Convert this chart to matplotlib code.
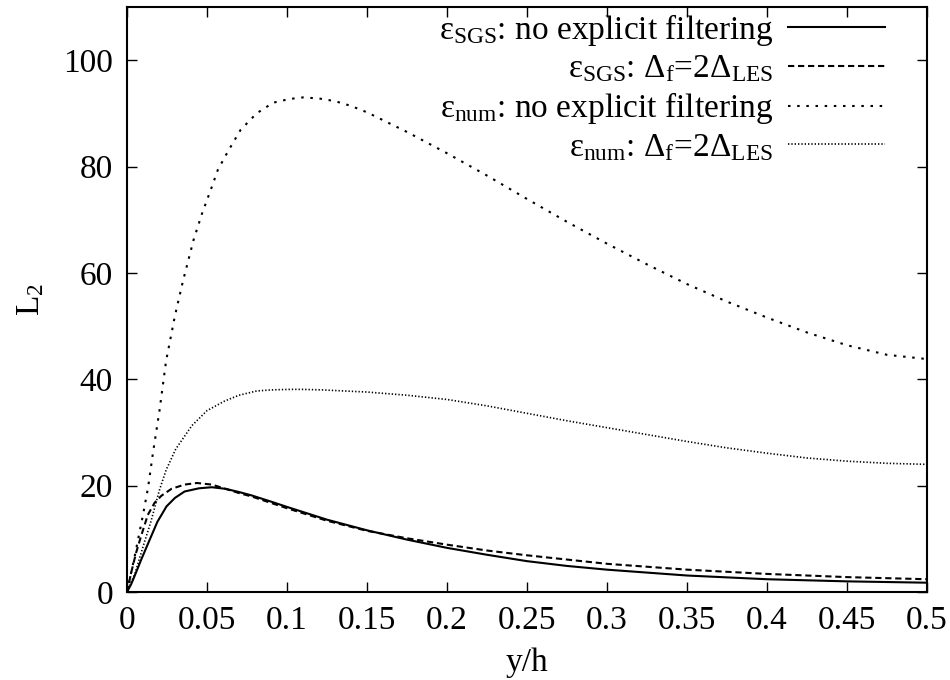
import matplotlib
matplotlib.use("Agg")
import matplotlib.pyplot as plt
from matplotlib.ticker import FormatStrFormatter

# data (y/h, L2)
x_sgs_nf = [0, 0.0025, 0.0046, 0.0089, 0.014, 0.019, 0.0247, 0.030, 0.036, 0.045,
            0.053, 0.0616, 0.07, 0.078, 0.09, 0.1, 0.125, 0.15, 0.175, 0.2,
            0.225, 0.25, 0.275, 0.3, 0.35, 0.4, 0.45, 0.5]
y_sgs_nf = [0, 1.4, 2.9, 6.1, 9.7, 13.2, 16.1, 17.7, 18.9, 19.5,
            19.7, 19.4, 18.8, 18.15, 17.0, 16.0, 13.6, 11.6, 9.85, 8.3,
            7.0, 5.8, 4.9, 4.2, 3.1, 2.4, 2.0, 1.75]

x_sgs_f = [0, 0.0025, 0.0057, 0.0089, 0.013, 0.0173, 0.0215, 0.0278, 0.036, 0.0437,
           0.053, 0.0616, 0.07, 0.078, 0.09, 0.1, 0.125, 0.15, 0.175, 0.2,
           0.225, 0.25, 0.275, 0.3, 0.35, 0.4, 0.45, 0.5]
y_sgs_f = [0, 3.5, 7.4, 10.6, 14.5, 16.8, 18.1, 19.4, 20.2, 20.5,
           20.2, 19.4, 18.6, 17.95, 16.75, 15.75, 13.4, 11.5, 10.1, 8.9,
           7.8, 6.9, 6.1, 5.3, 4.2, 3.4, 2.8, 2.4]

x_num_nf = [0, 0.005, 0.01, 0.0132, 0.0162, 0.0203, 0.0244, 0.03, 0.035, 0.0416,
            0.0467, 0.0528, 0.0568, 0.063, 0.071, 0.081, 0.0913, 0.1015, 0.11, 0.12,
            0.13, 0.14, 0.15, 0.175, 0.2, 0.225, 0.25, 0.275, 0.3, 0.325,
            0.35, 0.375, 0.4, 0.425, 0.45, 0.475, 0.5]
y_num_nf = [0, 7, 14.5, 19.7, 26.1, 34.1, 43.4, 52, 58.5, 66.2,
            71, 76, 79.4, 82.8, 86.9, 90, 92, 92.7, 93, 92.8,
            92.3, 91.4, 90.2, 86.5, 82.5, 78.3, 73.9, 69.6, 65.5, 61.6,
            57.9, 54.6, 51.6, 48.8, 46.4, 44.6, 43.8]

x_num_f = [0, 0.005, 0.01, 0.015, 0.0203, 0.0244, 0.0305, 0.0406, 0.05, 0.061,
           0.07, 0.081, 0.09, 0.1015, 0.11, 0.122, 0.15, 0.175, 0.2, 0.225,
           0.25, 0.275, 0.3, 0.325, 0.35, 0.375, 0.4, 0.425, 0.45, 0.475, 0.5]
y_num_f = [0, 3.5, 8.5, 13.3, 19.2, 22.9, 26.9, 31.3, 34.1, 35.9,
           37.0, 37.8, 38.0, 38.1, 38.1, 38.0, 37.6, 37.0, 36.2, 35.0,
           33.6, 32.2, 30.9, 29.6, 28.3, 27.1, 26.1, 25.2, 24.6, 24.2, 24.0]

labels = [
    r"$\mathrm{ε_{SGS}}$: no explicit filtering",
    r"$\mathrm{ε_{SGS}}$: $\mathrm{Δ_f}$=2$\mathrm{Δ_{LES}}$",
    r"$\mathrm{ε_{num}}$: no explicit filtering",
    r"$\mathrm{ε_{num}}$: $\mathrm{Δ_f}$=2$\mathrm{Δ_{LES}}$",
]
xticks = [0, 0.05, 0.1, 0.15, 0.2, 0.25, 0.3, 0.35, 0.4, 0.45, 0.5]
yticks = [0, 20, 40, 60, 80, 100]

plt.rcParams["font.family"] = ["Liberation Serif", "DejaVu Serif"]
plt.rcParams["mathtext.fontset"] = "custom"
plt.rcParams["mathtext.rm"] = "Liberation Serif"
plt.rcParams["mathtext.it"] = "Liberation Serif:italic"
plt.rcParams["font.size"] = 24

fig = plt.figure(figsize=(9.5, 6.8), dpi=100)
# plot box: x 127..927 px, y 7..592 px
ax = fig.add_axes([127 / 950, 88 / 680, 800 / 950, 585 / 680])

lw = 1.5
ax.plot(x_sgs_nf, y_sgs_nf, color="black", lw=lw, ls="-", label=labels[0])
ax.plot(x_sgs_f, y_sgs_f, color="black", lw=lw, ls=(0, (3.0, 1.8)), label=labels[1])
ax.plot(x_num_nf, y_num_nf, color="black", lw=lw, ls=(0, (1.2, 3.2)), label=labels[2])
ax.plot(x_num_f, y_num_f, color="black", lw=1.2, ls=(0, (0.8, 1.2)), label=labels[3])

ax.set_xlim(0, 0.5)
ax.set_ylim(0, 110)
ax.set_xticks(xticks)
ax.set_yticks(yticks)
ax.xaxis.set_major_formatter(FormatStrFormatter("%g"))
ax.tick_params(direction="in", length=7, width=1, top=True, right=True)
ax.tick_params(axis="x", pad=10)
ax.tick_params(axis="y", pad=10)
for s in ax.spines.values():
    s.set_linewidth(1.5)

ax.set_xlabel("y/h", labelpad=8)
ax.set_ylabel(r"$\mathrm{L_2}$", labelpad=12)

ax.legend(loc="upper right", frameon=False, markerfirst=False,
          handlelength=2.9, handletextpad=0.45, labelspacing=0.18,
          borderaxespad=0, bbox_to_anchor=(0.964, 1.015))

fig.savefig("out.png", dpi=100)
